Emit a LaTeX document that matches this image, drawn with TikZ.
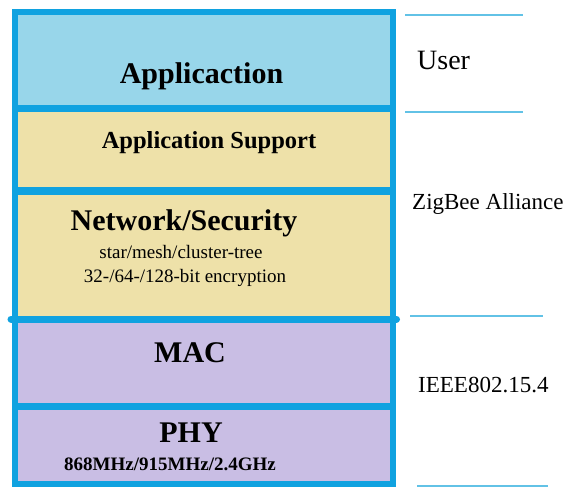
\documentclass[tikz,border=0pt]{standalone}
\usepackage{fontspec}
\setmainfont{Liberation Serif}
\definecolor{frameblue}{HTML}{10A2E0}
\definecolor{ruleblue}{HTML}{62C2E6}
\definecolor{appfill}{HTML}{98D6EA}
\definecolor{zbfill}{HTML}{EEE1A9}
\definecolor{ieeefill}{HTML}{C9BEE4}
\tikzset{
  layer/.style={rectangle, inner sep=0pt, outer sep=0pt, minimum width=377.5bp},
  frame/.style={draw=frameblue, line width=6bp},
  divider/.style={draw=frameblue, line width=7bp},
  sidebar/.style={draw=ruleblue, line width=2bp},
  bigtxt/.style={anchor=base, inner sep=0pt, font=\bfseries\fontsize{30bp}{34bp}\selectfont},
  midtxt/.style={anchor=base, inner sep=0pt, font=\bfseries\fontsize{24.5bp}{28bp}\selectfont},
  smalltxt/.style={anchor=base, inner sep=0pt, font=\fontsize{19bp}{22bp}\selectfont},
  freqtxt/.style={anchor=base, inner sep=0pt, font=\bfseries\fontsize{19bp}{22bp}\selectfont},
  sidetxt/.style={anchor=base west, inner sep=0pt, font=\fontsize{23bp}{26bp}\selectfont},
}
\begin{document}
\begin{tikzpicture}[x=1bp, y=-1bp]
\useasboundingbox (0,0) rectangle (567,487);
% protocol layers (fills only; borders drawn afterwards)
\node[layer, fill=appfill,  minimum height=97bp]  (app) at (203.75,60.5)  {};
\node[layer, fill=zbfill,   minimum height=82bp]  (aps) at (203.75,150)   {};
\node[layer, fill=zbfill,   minimum height=128bp] (nwk) at (203.75,255)   {};
\node[layer, fill=ieeefill, minimum height=87bp]  (mac) at (203.75,362.5) {};
\node[layer, fill=ieeefill, minimum height=78bp]  (phy) at (203.75,445)   {};
% dividers between layers
\draw[divider] (app.south west) -- (app.south east);
\draw[divider] (aps.south west) -- (aps.south east);
\draw[divider, line cap=round] ([xshift=-4bp]nwk.south west) -- ([xshift=4bp]nwk.south east);
\draw[divider] (mac.south west) -- (mac.south east);
% outer frame
\draw[frame] (app.north west) rectangle (phy.south east);
% layer titles
\node[bigtxt] (tapp) at (201.5,84) {Applicaction};
\node[midtxt] (taps) at (209,149) {Application Support};
\node[bigtxt] (tnwk) at (184,230) {Network/Security};
\node[smalltxt] (ttopo) at (181,258) {star/mesh/cluster-tree};
\node[smalltxt] (tenc) at (185,282) {32-/64-/128-bit encryption};
\node[bigtxt] (tmac) at (190,362) {MAC};
\node[bigtxt] (tphy) at (191,442) {PHY};
\node[freqtxt] (tfreq) at (170,470) {868MHz/915MHz/2.4GHz};
% side rules and owner labels
\coordinate (r1a) at (405,15);  \coordinate (r1b) at (523,15);
\coordinate (r2a) at (405,112); \coordinate (r2b) at (523,112);
\coordinate (r3a) at (410,316); \coordinate (r3b) at (543,316);
\coordinate (r4a) at (417,486); \coordinate (r4b) at (548,486);
\draw[sidebar] (r1a) -- (r1b);
\draw[sidebar] (r2a) -- (r2b);
\draw[sidebar] (r3a) -- (r3b);
\draw[sidebar] (r4a) -- (r4b);
\node[sidetxt, font=\fontsize{28bp}{30bp}\selectfont] (user) at (417,70) {User};
\node[sidetxt] (zba) at (412,210) {ZigBee Alliance};
\node[sidetxt] (ieee) at (418,392) {IEEE802.15.4};
\end{tikzpicture}
\end{document}
